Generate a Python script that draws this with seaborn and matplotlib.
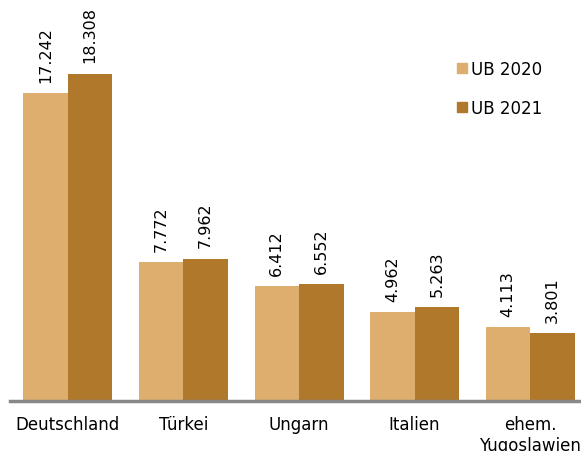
import pandas as pd
import seaborn as sns
import matplotlib.pyplot as plt
from matplotlib.patches import Patch

# data
laender = ["Deutschland", "Türkei", "Ungarn", "Italien", "ehem.\nYugoslawien"]
ub_2020 = [17.242, 7.772, 6.412, 4.962, 4.113]
ub_2021 = [18.308, 7.962, 6.552, 5.263, 3.801]
serien = ["UB 2020", "UB 2021"]
farben = ["#DEAE6E", "#B0782A"]

df = pd.DataFrame({
    "land": laender * 2,
    "wert": ub_2020 + ub_2021,
    "serie": [serien[0]] * len(laender) + [serien[1]] * len(laender),
})

sns.set_style("white")
plt.rcParams['font.family'] = ['DejaVu Sans']
plt.rcParams['text.color'] = 'black'
plt.rcParams['xtick.color'] = 'black'

fig = plt.figure(figsize=(5.81, 4.52), dpi=100)
ax = fig.add_axes([0.017, 0.111, 0.983, 0.87])

sns.barplot(data=df, x="land", y="wert", hue="serie", palette=farben,
            width=0.77, saturation=1, linewidth=0, ax=ax, legend=False)

for cont in ax.containers:
    for bar in cont:
        h = bar.get_height()
        ax.annotate("{:.3f}".format(h), (bar.get_x() + bar.get_width() / 2, h),
                    xytext=(0, 8), textcoords="offset points",
                    rotation=90, ha="center", va="bottom", fontsize=11.5)

ax.set_xlim(-0.502, 4.44)
ax.set_ylim(0, 22.0)
ax.set_xlabel("")
ax.set_ylabel("")
ax.set_yticks([])
ax.tick_params(axis="x", length=0, labelsize=12, pad=10, labelcolor="black")
for s in ["top", "right", "left"]:
    ax.spines[s].set_visible(False)
ax.spines["bottom"].set_color("#888888")
ax.spines["bottom"].set_linewidth(2.5)

handles = [Patch(color=c, label=l) for c, l in zip(farben, serien)]
ax.legend(handles=handles, loc="upper left", bbox_to_anchor=(0.757, 0.905),
          frameon=False, handlelength=0.6, handleheight=0.6, handletextpad=0.25,
          labelspacing=1.25, fontsize=12)

fig.savefig("out.png", dpi=100)
